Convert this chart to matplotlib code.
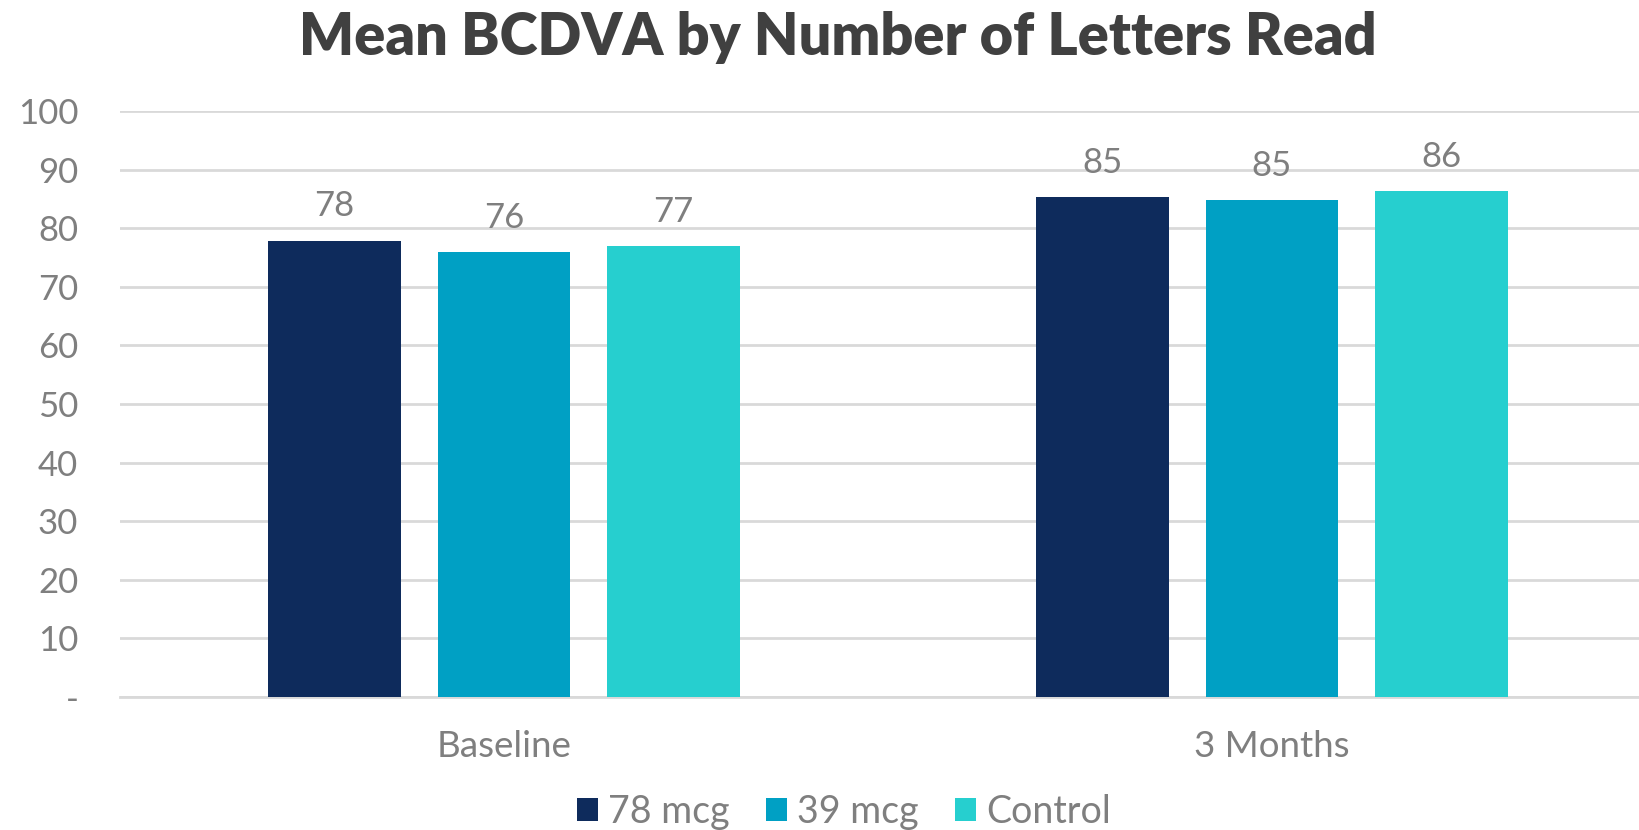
import matplotlib
matplotlib.use("Agg")
import matplotlib.pyplot as plt
from matplotlib.patches import Patch
import numpy as np

categories = ["Baseline", "3 Months"]
series_names = ["78 mcg", "39 mcg", "Control"]
values_78 = [77.9, 85.4]
values_39 = [75.9, 84.8]
values_ctrl = [77.0, 86.3]
yticks = [0, 10, 20, 30, 40, 50, 60, 70, 80, 90, 100]
ytick_labels = ["-", "10", "20", "30", "40", "50", "60", "70", "80", "90", "100"]
colors = ["#0E2B5C", "#00A0C4", "#26CFCF"]

plt.rcParams['font.family'] = ['Lato', 'DejaVu Sans']
text_color = "#7F7F7F"

W, H = 1640, 830
fig = plt.figure(figsize=(W / 100, H / 100), dpi=100)
ax = fig.add_axes([120 / W, 1 - 697 / H, 1536 / W, (697 - 111) / H])

x = np.arange(len(categories))
bw = 0.173
off = 0.221
for i, (vals, c, name) in enumerate(zip([values_78, values_39, values_ctrl], colors, series_names)):
    bars = ax.bar(x + (i - 1) * off, vals, width=bw, color=c, label=name, zorder=3)
    for b, v in zip(bars, vals):
        ax.annotate(f"{v:.0f}", (b.get_x() + b.get_width() / 2, v),
                    xytext=(0, 13), textcoords="offset points",
                    ha="center", va="bottom", fontsize=25, color=text_color)

ax.set_xlim(-0.5, 1.5)
ax.set_ylim(0, 100)
ax.set_yticks(yticks)
ax.set_yticklabels(ytick_labels)
ax.set_xticks(x)
ax.set_xticklabels(categories)
ax.tick_params(axis='y', length=0, pad=30, labelsize=25, labelcolor=text_color)
ax.tick_params(axis='x', length=0, pad=24, labelsize=26.5, labelcolor=text_color)
ax.grid(axis='y', color="#D9D9D9", linewidth=2, zorder=0)
for s in ["top", "right", "left"]:
    ax.spines[s].set_visible(False)
ax.spines["bottom"].set_color("#D9D9D9")
ax.spines["bottom"].set_linewidth(2)
ax.spines["bottom"].set_zorder(1)

fig.text(838 / W, 1 - 37 / H, "Mean BCDVA by Number of Letters Read",
         ha="center", va="center", fontsize=41.5, fontweight="heavy", color="#404040")

handles = [Patch(facecolor=c, edgecolor='none') for c in colors]
fig.legend(handles, series_names, loc="center", bbox_to_anchor=(844 / W, 1 - 812 / H),
           ncol=3, frameon=False, prop={"size": 27}, labelcolor=text_color,
           handlelength=0.56, handleheight=0.56, handletextpad=0.27, columnspacing=0.96)

fig.savefig("out.png", dpi=100, facecolor="white")
